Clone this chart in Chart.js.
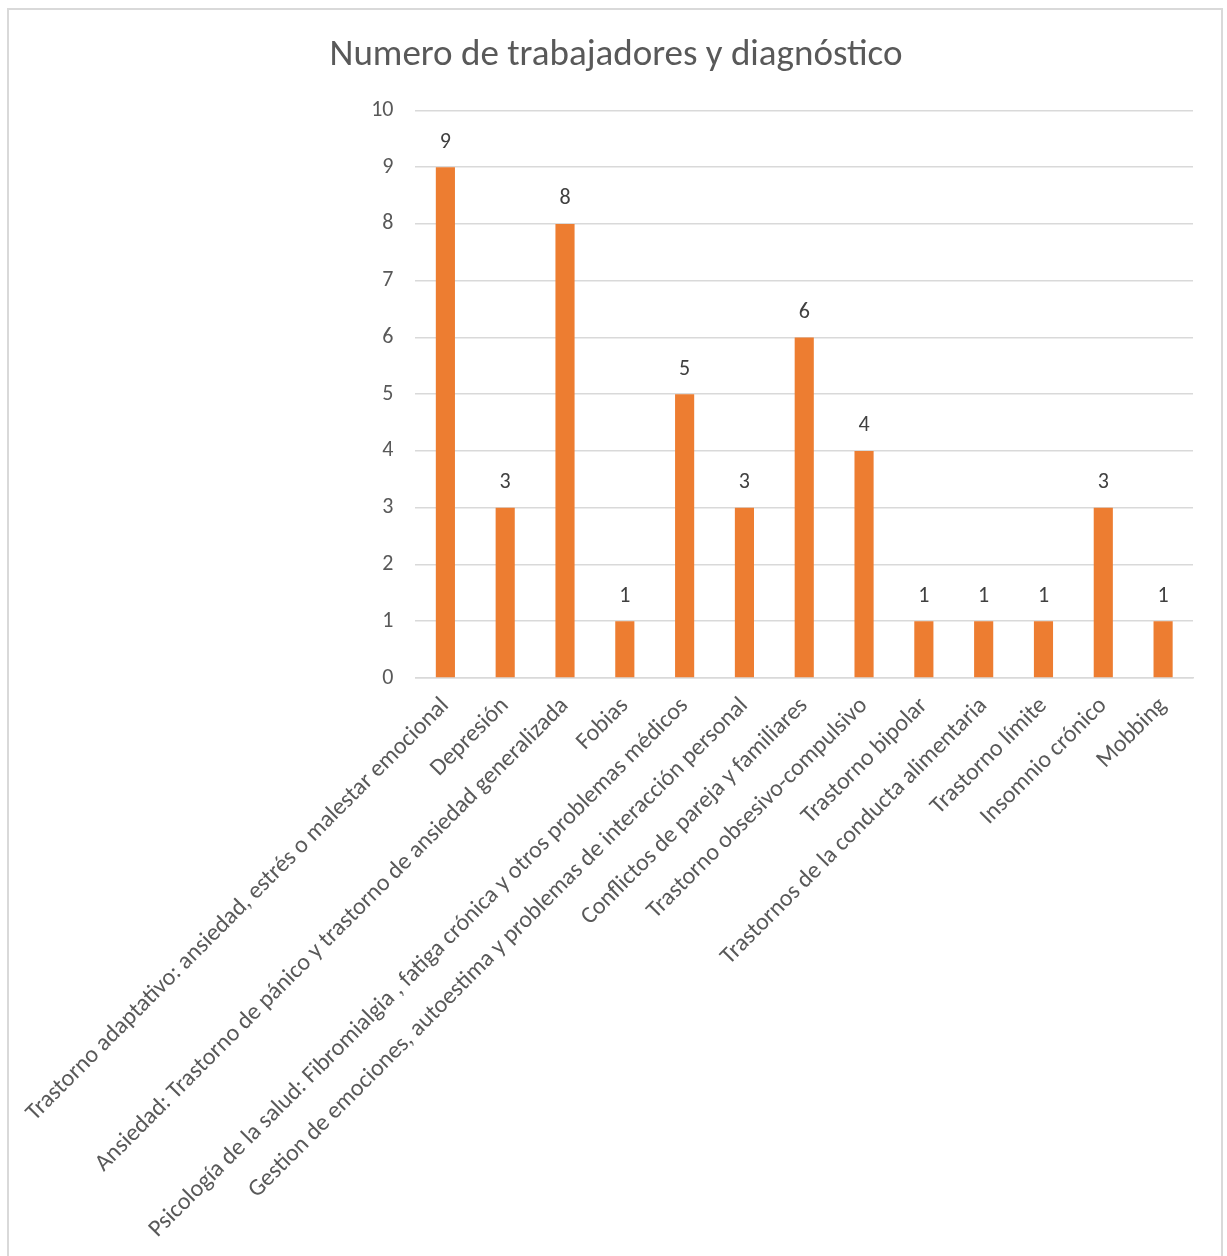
<!DOCTYPE html>
<html>
<head>
<meta charset="utf-8">
<script src="https://cdn.jsdelivr.net/npm/chart.js@4.4.1/dist/chart.umd.min.js"></script>
<style>
  body { margin: 0; background: #fff; }
  #box {
    position: absolute; left: 7px; top: 8px;
    width: 1212px; height: 1260px;
    border: 2px solid #d9d9d9; border-bottom: none;
    background: #fff;
  }
  #wrap { position: relative; width: 1212px; height: 1244px; }
</style>
</head>
<body>
<div id="box"><div id="wrap"><canvas id="myChart"></canvas></div></div>
<script>
const labels = [
  'Trastorno adaptativo: ansiedad, estrés o malestar emocional',
  'Depresión',
  'Ansiedad: Trastorno de pánico y trastorno de ansiedad generalizada',
  'Fobias',
  'Psicología de la salud: Fibromialgia , fatiga crónica y otros problemas médicos',
  'Gestion de emociones, autoestima y problemas de interacción personal',
  'Conflictos de pareja y familiares',
  'Trastorno obsesivo-compulsivo',
  'Trastorno bipolar',
  'Trastornos de la conducta alimentaria',
  'Trastorno límite',
  'Insomnio crónico',
  'Mobbing'
];
const values = [9, 3, 8, 1, 5, 3, 6, 4, 1, 1, 1, 3, 1];
const yTicks = [0, 1, 2, 3, 4, 5, 6, 7, 8, 9, 10];

const fontFamily = 'Carlito, Lato, sans-serif';
const textColor = '#595959';

// draws the value above each bar
const valueLabels = {
  id: 'valueLabels',
  afterDatasetsDraw(chart) {
    const ctx = chart.ctx;
    const meta = chart.getDatasetMeta(0);
    ctx.save();
    ctx.font = '22px ' + fontFamily;
    ctx.fillStyle = '#404040';
    ctx.textAlign = 'center';
    ctx.textBaseline = 'bottom';
    meta.data.forEach((bar, i) => {
      ctx.fillText(values[i], bar.x, bar.y - 14);
    });
    ctx.restore();
  }
};

const data = {
  labels: labels,
  datasets: [{
    data: values,
    backgroundColor: '#ED7D31',
    borderWidth: 0,
    categoryPercentage: 1,
    barPercentage: 0.32
  }]
};

const config = {
  type: 'bar',
  data: data,
  plugins: [valueLabels],
  options: {
    responsive: true,
    maintainAspectRatio: false,
    animation: false,
    layout: { padding: { left: 30, right: 28, top: 24, bottom: 0 } },
    plugins: {
      legend: { display: false },
      tooltip: { enabled: false },
      title: {
        display: true,
        text: 'Numero de trabajadores y diagnóstico',
        color: textColor,
        font: { family: fontFamily, size: 37, weight: 'normal' },
        padding: { top: 0, bottom: 32 }
      }
    },
    scales: {
      y: {
        min: 0,
        max: 10,
        afterBuildTicks: (axis) => { axis.ticks = yTicks.map(v => ({ value: v })); },
        afterFit: (axis) => { axis.width = 371; },
        ticks: {
          color: textColor,
          font: { family: fontFamily, size: 22 },
          padding: 22
        },
        grid: { color: '#d9d9d9', lineWidth: 1.5, drawTicks: false },
        border: { display: false }
      },
      x: {
        offset: true,
        afterFit: (axis) => { axis.height = 576; },
        ticks: {
          color: textColor,
          font: { family: fontFamily, size: 24 },
          minRotation: 45,
          maxRotation: 45,
          autoSkip: false,
          padding: 6
        },
        grid: { display: false },
        border: { color: '#d9d9d9', width: 1.5 }
      }
    }
  }
};

const myChart = new Chart(document.getElementById('myChart'), config);
</script>
</body>
</html>
